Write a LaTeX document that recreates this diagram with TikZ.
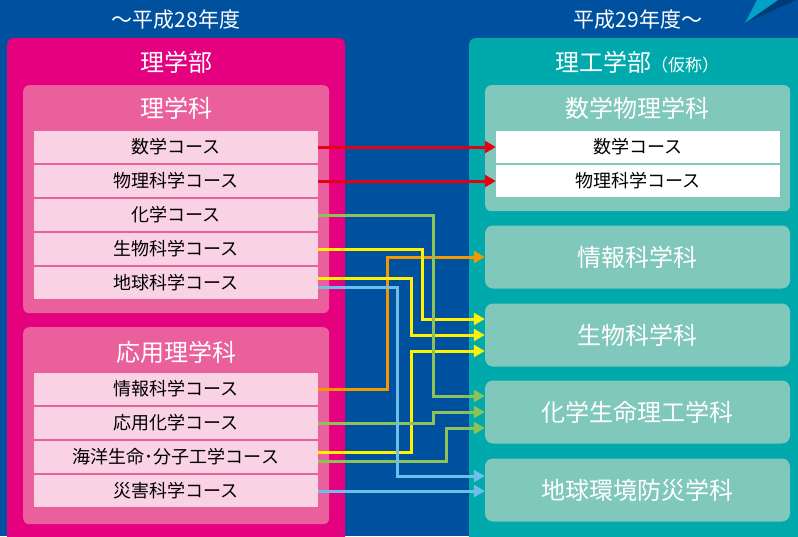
\documentclass[tikz,border=0pt]{standalone}
\usepackage{fontspec}
\setmainfont{Noto Sans CJK JP}
\usetikzlibrary{arrows.meta,positioning}

\definecolor{bgblue}{HTML}{0050A0}
\definecolor{bgcyan}{HTML}{00A2C6}
\definecolor{fmagenta}{HTML}{E4007F}
\definecolor{dpink}{HTML}{EA609C}
\definecolor{cpink}{HTML}{F9D3E3}
\definecolor{fteal}{HTML}{00A9AB}
\definecolor{dteal}{HTML}{80C8BB}
\definecolor{lred}{HTML}{E50012}
\definecolor{lorange}{HTML}{F39800}
\definecolor{lyellow}{HTML}{FFF100}
\definecolor{lgreen}{HTML}{8DC25A}
\definecolor{lblue}{HTML}{6DBFEA}

\tikzset{
  panel/.style = {fill = #1, rounded corners = 6pt, inner sep = 0,
    anchor = north west},
  course/.style = {fill = cpink, minimum width = 284pt, minimum height = 32pt,
    inner sep = 0, font = \fontsize{18}{18}\selectfont},
  dept/.style = {fill = dteal, rounded corners = 8pt, minimum width = 305pt,
    minimum height = 63pt, inner sep = 0, text = white,
    font = \fontsize{24}{24}\selectfont},
  title/.style = {text = white, inner sep = 0, font = \fontsize{24}{24}\selectfont},
  head/.style = {text = white, inner sep = 0, font = \fontsize{21}{21}\selectfont},
  conn/.style = {draw = #1, line width = 3pt,
    -{Triangle[length = 11pt, width = 12pt]}}
}

\begin{document}
\begin{tikzpicture}[x = 1pt, y = -1pt]
  \useasboundingbox (0, 0) rectangle (798, 536);
  \clip (0, 0) rectangle (798, 536);
  \fill[bgblue] (0, 0) rectangle (798, 536);
  \fill[black, opacity = 0.25] (745, 23) -- (778, 0) -- (796, 0) -- cycle;
  \fill[bgcyan] (745, 23) -- (757, 0) -- (778, 0) -- cycle;

  \node[head] (before) at (176, 20) {〜平成28年度};
  \node[head] (after) at (638, 20) {平成29年度〜};

  % left side
  \node[panel = fmagenta, minimum width = 338pt, minimum height = 530pt]
  (rigakubu) at (7, 38) {};
  \node[title] (rigakubuT) at (176, 62) {理学部};
  \node[panel = dpink, minimum width = 306pt, minimum height = 228pt]
  (rigakka) at (23, 85) {};
  \node[title] (rigakkaT) at (176, 108) {理学科};
  \node[panel = dpink, minimum width = 306pt, minimum height = 197pt]
  (oyo) at (23, 327) {};
  \node[title] (oyoT) at (176, 352) {応用理学科};

  \foreach \crs [count = \i] in {数学コース, 物理科学コース, 化学コース,
    生物科学コース, 地球科学コース}
    \node[course] (c\i) at (176, 113 + 34*\i) {\crs};
  \foreach \crs [count = \i from 6] in {情報科学コース, 応用化学コース,
    海洋生命･分子工学コース, 災害科学コース}
    \node[course] (c\i) at (176, 185 + 34*\i) {\crs};

  % right side
  \node[panel = fteal, minimum width = 360pt, minimum height = 530pt]
  (rikogakubu) at (469, 38) {};
  \node[title] (rikogakubuT) at (637, 62)
  {理工学部{\fontsize{17}{17}\selectfont（仮称）}};
  \node[panel = dteal, minimum width = 305pt, minimum height = 126pt]
  (suri) at (485, 85) {};
  \node[title] (suriT) at (637, 108) {数学物理学科};
  \node[course, fill = white] (w1) at (638, 147) {数学コース};
  \node[course, fill = white] (w2) at (638, 181) {物理科学コース};

  \node[dept] (d2) at (637.5, 257) {情報科学科};
  \node[dept] (d3) at (637.5, 335) {生物科学科};
  \node[dept] (d4) at (637.5, 412) {化学生命理工学科};
  \node[dept] (d5) at (637.5, 490) {地球環境防災学科};

  % connectors
  \draw[conn = lred] (c1.east) -- (w1.west);
  \draw[conn = lred] (c2.east) -- (w2.west);
  \draw[conn = lorange] (c6.east) -| (387, 257) -- (d2.west);
  \draw[conn = lyellow] (c4.east) -| (422, 319) -- ([yshift = 16pt]d3.west);
  \draw[conn = lyellow] ([yshift = 5pt]c5.east) -| (411, 335) -- (d3.west);
  \draw[conn = lyellow] ([yshift = 5pt]c8.east) -| (411, 351)
  -- ([yshift = -16pt]d3.west);
  \draw[conn = lgreen] (c3.east) -| (433, 396) -- ([yshift = 16pt]d4.west);
  \draw[conn = lgreen] (c7.east) -| (433, 412) -- (d4.west);
  \draw[conn = lgreen] ([yshift = -4pt]c8.east) -| (446, 428)
  -- ([yshift = -16pt]d4.west);
  \draw[conn = lblue] ([yshift = -4pt]c5.east) -| (397, 476)
  -- ([yshift = 14pt]d5.west);
  \draw[conn = lblue] (c9.east) -- (c9.east -| d5.west);
\end{tikzpicture}
\end{document}
